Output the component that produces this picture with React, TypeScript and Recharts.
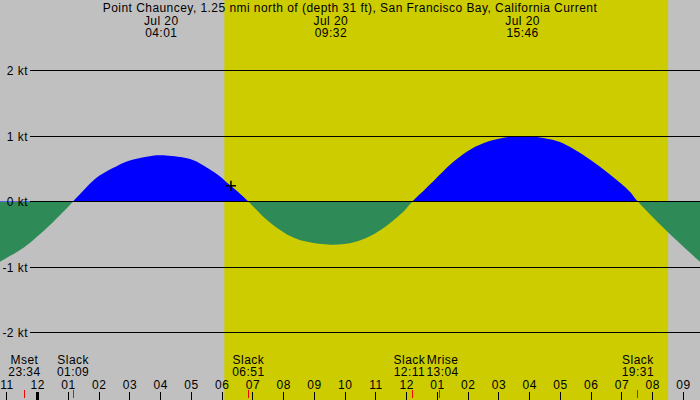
import { ComposedChart, Area, XAxis, YAxis, ReferenceArea, ReferenceLine, ReferenceDot } from 'recharts';

// time in hours from Jul 19 00:00, current speed in knots (flood +, ebb -)
const TIMES = [
  22.772, 23.423, 23.846, 24.398, 24.951, 25.15, 25.592, 26.024, 26.567, 27.107, 27.65, 28.017,
  28.733, 29.277, 29.82, 30.057, 30.283, 30.577, 30.85, 31.283, 31.716, 32.259, 32.799, 33.533,
  34.317, 34.968, 35.511, 35.943, 36.183, 36.864, 37.407, 37.95, 38.49, 39.033, 39.767,
  40.659, 41.202, 41.742, 42.285, 42.828, 43.26, 43.517, 44.454, 45.537,
];
const SPEED = [
  -0.92, -0.74, -0.59, -0.36, -0.1, 0, 0.22, 0.4, 0.54, 0.64, 0.69, 0.705,
  0.67, 0.58, 0.42, 0.33, 0.24, 0.12, 0, -0.21, -0.38, -0.54, -0.62, -0.66,
  -0.62, -0.49, -0.31, -0.13, 0, 0.31, 0.56, 0.76, 0.89, 0.96, 1.0,
  0.95, 0.86, 0.71, 0.53, 0.33, 0.15, 0, -0.45, -0.92,
];

const HOUR_TICKS = [23, 24, 25, 26, 27, 28, 29, 30, 31, 32, 33, 34, 35, 36, 37, 38, 39, 40, 41, 42, 43, 44, 45];
const KT_TICKS = [-2, -1, 0, 1, 2];

const EVENT_TIMES = [23.567, 25.15, 30.85, 36.183, 37.067, 43.517];
const EVENT_NAMES = ['Mset', 'Slack', 'Slack', 'Slack', 'Mrise', 'Slack'];
const EVENT_CLOCK = ['23:34', '01:09', '06:51', '12:11', '13:04', '19:31'];

const PEAK_TIMES = [28.017, 33.533, 39.767];
const PEAK_DATES = ['Jul 20', 'Jul 20', 'Jul 20'];
const PEAK_CLOCK = ['04:01', '09:32', '15:46'];

const SUNRISE = 30.067;
const SUNSET = 44.5;
const NOW = 30.283;
const NOW_SPEED = 0.24;

const TITLE = 'Point Chauncey, 1.25 nmi north of (depth 31 ft), San Francisco Bay, California Current';

const W = 700;
const H = 400;
const XMIN = 22.7724;
const XMAX = XMIN + 700 / 30.75;
const YMAX = 201.5 / 65.5;
const YMIN = -(400 - 201.5) / 65.5;
const GRID_START = XMIN + 30 / 30.75;

const FONT = '"Liberation Sans", Arial, sans-serif';
const SPACING = '0.45px';
const EVENT_NUDGE: Record<number, number> = { 3: -3, 4: 3 };

const data = TIMES.map((t, i) => ({ t, v: SPEED[i] }));

const hourLabel = (h: number) => {
  const n = h % 12 === 0 ? 12 : h % 12;
  return String(n).padStart(2, '0');
};

const px = (x: number) => Math.floor(x) + 0.5;

const txt = { fontSize: 12, fontFamily: FONT, fill: '#000', letterSpacing: SPACING };

// axis sits 1px past the plot edge, so y here is plot edge + 1
const HourTick = ({ x, y, payload }: any) => {
  const h = payload.value;
  const base = y - 1;
  const midnight = h % 24 === 0;
  return (
    <g>
      <text x={x} y={base - 11} textAnchor="middle" {...txt}>
        {hourLabel(h)}
      </text>
      <line x1={px(x)} x2={px(x)} y1={base - 8} y2={base} stroke="#000" strokeWidth={midnight ? 3 : 1} />
    </g>
  );
};

const EventTick = ({ x, y, index }: any) => {
  const base = y - 2;
  const tx = x + (EVENT_NUDGE[index] || 0);
  return (
    <g>
      <text x={tx} y={base - 34} textAnchor="middle" {...txt}>
        {EVENT_NAMES[index]}
      </text>
      <text x={tx} y={base - 22} textAnchor="middle" {...txt}>
        {EVENT_CLOCK[index]}
      </text>
      <line x1={px(x)} x2={px(x)} y1={base - 8} y2={base} stroke="#ff0000" strokeWidth={1} />
    </g>
  );
};

const PeakTick = ({ x, y, index }: any) => {
  const base = y + 1;
  return (
    <g>
      <text x={x} y={base + 24} textAnchor="middle" {...txt}>
        {PEAK_DATES[index]}
      </text>
      <text x={x} y={base + 36} textAnchor="middle" {...txt}>
        {PEAK_CLOCK[index]}
      </text>
    </g>
  );
};

const KtTick = ({ y, payload }: any) => (
  <text x={28} y={y + 4.5} textAnchor="end" {...txt}>
    {`${payload.value} kt`}
  </text>
);

const NowMark = ({ cx, cy }: any) => (
  <g stroke="#000" strokeWidth={1.5}>
    <line x1={cx - 5} x2={cx + 5} y1={cy} y2={cy} />
    <line x1={cx} x2={cx} y1={cy - 5} y2={cy + 5} />
  </g>
);

export default function App() {
  const split = YMAX / (YMAX - YMIN);
  return (
    <div style={{ position: 'absolute', left: 0, top: 0, width: W, height: H, background: '#c0c0c0' }}>
      <ComposedChart width={W} height={H} data={data} margin={{ top: -1, right: 0, bottom: -2, left: -1 }}>
        <defs>
          <linearGradient id="flow" gradientUnits="userSpaceOnUse" x1={0} y1={0} x2={0} y2={H}>
            <stop offset={split} stopColor="#0000ff" />
            <stop offset={split} stopColor="#2e8b57" />
          </linearGradient>
        </defs>
        <XAxis xAxisId="h" dataKey="t" type="number" domain={[XMIN, XMAX]} allowDataOverflow height={1}
          ticks={HOUR_TICKS} interval={0} tick={<HourTick />} tickSize={0} tickMargin={0} axisLine={false} tickLine={false} />
        <XAxis xAxisId="ev" dataKey="t" type="number" domain={[XMIN, XMAX]} allowDataOverflow height={1}
          ticks={EVENT_TIMES} interval={0} tick={<EventTick />} tickSize={0} tickMargin={0} axisLine={false} tickLine={false} />
        <XAxis xAxisId="pk" dataKey="t" orientation="top" type="number" domain={[XMIN, XMAX]} allowDataOverflow height={1}
          ticks={PEAK_TIMES} interval={0} tick={<PeakTick />} tickSize={0} tickMargin={0} axisLine={false} tickLine={false} />
        <YAxis type="number" domain={[YMIN, YMAX]} allowDataOverflow width={1} ticks={KT_TICKS} interval={0}
          tick={<KtTick />} axisLine={false} tickLine={false} />
        <ReferenceArea xAxisId="h" x1={SUNRISE} x2={SUNSET} y1={YMIN} y2={YMAX} fill="#cccc00" fillOpacity={1} stroke="none" ifOverflow="visible" />
        <Area xAxisId="h" type="natural" dataKey="v" stroke="none" fill="url(#flow)" fillOpacity={1} baseValue={0}
          dot={false} activeDot={false} isAnimationActive={false} />
        {KT_TICKS.map((k) => (
          <ReferenceLine key={k} xAxisId="h" segment={[{ x: GRID_START, y: k }, { x: XMAX, y: k }]} stroke="#000" strokeWidth={1} shapeRendering="crispEdges" ifOverflow="visible" />
        ))}
        <ReferenceDot xAxisId="h" x={NOW} y={NOW_SPEED} r={5} shape={<NowMark />} ifOverflow="visible" />
      </ComposedChart>
      <div style={{ position: 'absolute', left: 0, top: 1, width: W, textAlign: 'center', fontFamily: FONT, fontSize: 12, lineHeight: '14px', letterSpacing: SPACING, color: '#000', pointerEvents: 'none' }}>
        {TITLE}
      </div>
    </div>
  );
}
